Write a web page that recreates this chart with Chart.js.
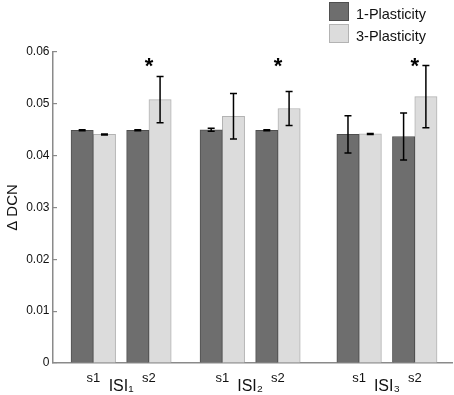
<!DOCTYPE html>
<html>
<head>
<meta charset="utf-8">
<script src="https://cdn.jsdelivr.net/npm/chart.js@4.4.1/dist/chart.umd.min.js"></script>
<style>
html, body { margin: 0; padding: 0; background: #fff; }
#wrap { position: relative; width: 454px; height: 395px; }
#legend { position: absolute; left: 329px; top: 2px; font-family: 'Liberation Sans', Arial, sans-serif; font-size: 14.5px; color: #111; }
#legend .item { position: relative; height: 21.5px; width: 120px; }
#legend .box { position: absolute; left: 0; top: 0; width: 18px; height: 17px; border: 1px solid; }
#legend .txt { position: absolute; left: 27px; top: 3px; line-height: 19px; white-space: nowrap; }
</style>
</head>
<body>
<div id="wrap">
  <canvas id="c" width="454" height="395"></canvas>
  <div id="legend"></div>
</div>
<script>
// ---- data ----
const seriesNames = ['1-Plasticity', '3-Plasticity'];
const conditions = ['s1', 's2', 's1', 's2', 's1', 's2'];
const conditionX = [1, 2, 3.32, 4.32, 5.78, 6.78];
const groupLabels = ['ISI\u2081', 'ISI\u2082', 'ISI\u2083'];
const plasticity1 = [0.0449, 0.0449, 0.0450, 0.0449, 0.0441, 0.0437];
const plasticity1Err = [0.0001, 0.0001, 0.0003, 0.0001, 0.0036, 0.00455];
const plasticity3 = [0.0441, 0.0508, 0.0476, 0.0491, 0.0442, 0.0514];
const plasticity3Err = [0.0001, 0.00447, 0.0044, 0.0033, 0.0001, 0.0060];
const significant = [false, true, false, true, false, true];
const starLevel = 0.0585;
const yMin = 0, yMax = 0.06, yStep = 0.01;

// ---- derived tick list for the x axis ----
const xTicks = [];
for (let g = 0; g < groupLabels.length; g++) {
  const a = conditionX[2 * g], b = conditionX[2 * g + 1];
  xTicks.push({ value: a, label: conditions[2 * g], kind: 'cond' });
  xTicks.push({ value: (a + b) / 2, label: groupLabels[g], kind: 'group' });
  xTicks.push({ value: b, label: conditions[2 * g + 1], kind: 'cond' });
}

const FONT = "'Liberation Sans', Arial, Helvetica, sans-serif";
Chart.defaults.font.family = FONT;
Chart.defaults.color = '#111';

const darkFill = '#6e6e6e', darkBorder = '#4f4f4f';
const lightFill = '#dcdcdc', lightBorder = '#b3b3b3';
const axisGray = '#8a8a8a';

const errorBars = {
  id: 'errorBars',
  afterDatasetsDraw(chart) {
    const ctx = chart.ctx;
    const y = chart.scales.y;
    const errs = [plasticity1Err, plasticity3Err];
    const vals = [plasticity1, plasticity3];
    ctx.save();
    ctx.strokeStyle = '#000';
    ctx.lineWidth = 1.5;
    chart.data.datasets.forEach((ds, di) => {
      const meta = chart.getDatasetMeta(di);
      meta.data.forEach((bar, i) => {
        const v = vals[di][i], e = errs[di][i];
        const yt = y.getPixelForValue(v + e);
        const yb = y.getPixelForValue(v - e);
        const x = bar.x;
        ctx.beginPath();
        ctx.moveTo(x, yt); ctx.lineTo(x, yb);
        ctx.moveTo(x - 3.5, yt); ctx.lineTo(x + 3.5, yt);
        ctx.moveTo(x - 3.5, yb); ctx.lineTo(x + 3.5, yb);
        ctx.stroke();
      });
    });
    ctx.restore();
  }
};

const stars = {
  id: 'stars',
  afterDatasetsDraw(chart) {
    const ctx = chart.ctx;
    const xs = chart.scales.x, ys = chart.scales.y;
    ctx.save();
    ctx.fillStyle = '#000';
    ctx.font = 'bold 22px ' + FONT;
    ctx.textAlign = 'center';
    ctx.textBaseline = 'alphabetic';
    significant.forEach((s, i) => {
      if (!s) return;
      ctx.fillText('*', xs.getPixelForValue(conditionX[i]), ys.getPixelForValue(starLevel) + 13);
    });
    ctx.restore();
  }
};

const chart = new Chart(document.getElementById('c'), {
  type: 'bar',
  data: {
    datasets: [
      {
        label: seriesNames[0],
        data: conditionX.map((x, i) => ({ x: x, y: plasticity1[i] })),
        backgroundColor: darkFill,
        borderColor: darkBorder,
        borderWidth: 1
      },
      {
        label: seriesNames[1],
        data: conditionX.map((x, i) => ({ x: x, y: plasticity3[i] })),
        backgroundColor: lightFill,
        borderColor: lightBorder,
        borderWidth: 1
      }
    ]
  },
  options: {
    responsive: false,
    animation: false,
    devicePixelRatio: 1,
    barThickness: 22.3,
    layout: { padding: { top: 52, right: 2, left: 0, bottom: 0 } },
    plugins: { legend: { display: false }, tooltip: { enabled: false } },
    scales: {
      x: {
        type: 'linear',
        min: 0.275,
        max: 7.45,
        offset: false,
        grid: { display: false, offset: false },
        border: { display: true, color: axisGray, width: 1.5 },
        afterBuildTicks: (scale) => { scale.ticks = xTicks.map(t => ({ value: t.value })); },
        afterFit: (scale) => { scale.height = 32; },
        ticks: {
          autoSkip: false,
          maxRotation: 0,
          minRotation: 0,
          padding: 0,
          color: '#111',
          callback: (value, index) => xTicks[index] ? xTicks[index].label : '',
          font: (ctx) => (xTicks[ctx.index] && xTicks[ctx.index].kind === 'group')
            ? { size: 16, lineHeight: 1.95 }
            : { size: 13, lineHeight: 1.108 }
        }
      },
      y: {
        min: yMin,
        max: yMax,
        afterFit: (scale) => { scale.width = 53; },
        border: { display: true, color: axisGray, width: 1.5 },
        grid: { display: true, drawOnChartArea: false, drawTicks: true, tickLength: -4, color: axisGray, lineWidth: 1.2 },
        ticks: { stepSize: yStep, padding: 7.5, color: '#111', font: { size: 12 } },
        title: { display: true, text: '\u0394 DCN', color: '#111', font: { size: 15 }, padding: { top: 4, bottom: 0 } }
      }
    }
  },
  plugins: [errorBars, stars]
});

// HTML legend built from the chart's datasets
const legendEl = document.getElementById('legend');
chart.data.datasets.forEach(ds => {
  const item = document.createElement('div');
  item.className = 'item';
  const box = document.createElement('div');
  box.className = 'box';
  box.style.background = ds.backgroundColor;
  box.style.borderColor = ds.borderColor;
  const txt = document.createElement('span');
  txt.className = 'txt';
  txt.textContent = ds.label;
  item.appendChild(box);
  item.appendChild(txt);
  legendEl.appendChild(item);
});
</script>
</body>
</html>
